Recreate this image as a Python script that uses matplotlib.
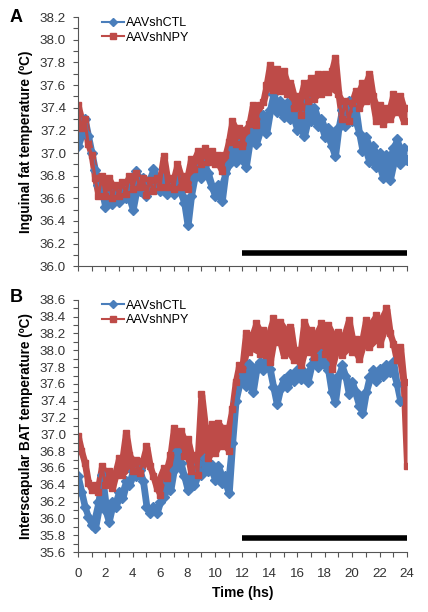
import matplotlib
matplotlib.use("Agg")
import matplotlib.pyplot as plt
import numpy as np
import pandas as pd
from matplotlib.ticker import MultipleLocator

plt.rcParams["font.family"] = ["Liberation Sans", "DejaVu Sans"]

# recording grid: one reading every 15 min over 24 h
hours = np.linspace(0, 24, 97)

# Panel A - inguinal fat temperature (degC), four readings per hour
ing_ctl = [
    37.06, 37.18, 37.30, 37.15,  37.00, 36.85, 36.72, 36.66,
    36.52, 36.62, 36.55, 36.66,  36.57, 36.68, 36.60, 36.70,
    36.50, 36.84, 36.66, 36.78,  36.62, 36.74, 36.86, 36.72,
    36.66, 36.78, 36.64, 36.76,  36.64, 36.78, 36.66, 36.56,
    36.36, 36.62, 36.78, 36.86,  36.78, 36.90, 36.82, 36.70,
    36.62, 36.72, 36.58, 36.82,  36.90, 37.04, 36.92, 37.08,
    36.96, 36.88, 37.12, 37.22,  37.08, 37.20, 37.34, 37.18,
    37.38, 37.52, 37.36, 37.46,  37.32, 37.44, 37.30, 37.36,
    37.20, 37.34, 37.15, 37.46,  37.28, 37.40, 37.24, 37.30,
    37.14, 37.22, 37.06, 36.97,  37.22, 37.38, 37.24, 37.46,
    37.28, 37.40, 37.18, 37.02,  37.14, 36.92, 37.06, 36.88,
    37.00, 36.78, 36.98, 36.76,  37.04, 37.12, 36.90, 37.04,
    36.94,
]
ing_npy = [
    37.42, 37.22, 37.30, 37.08,  36.98, 36.78, 36.62, 36.80,
    36.62, 36.78, 36.60, 36.72,  36.62, 36.74, 36.64, 36.80,
    36.68, 36.82, 36.70, 36.78,  36.63, 36.76, 36.66, 36.78,
    36.70, 36.97, 36.70, 36.78,  36.68, 36.90, 36.70, 36.80,
    36.68, 36.95, 36.86, 37.02,  36.90, 37.04, 36.92, 37.02,
    36.90, 36.98, 36.84, 36.98,  37.10, 37.28, 37.08, 37.22,
    37.06, 37.20, 37.26, 37.42,  37.25, 37.42, 37.45, 37.60,
    37.78, 37.56, 37.74, 37.55,  37.72, 37.52, 37.62, 37.40,
    37.50, 37.34, 37.62, 37.46,  37.66, 37.48, 37.70, 37.52,
    37.70, 37.54, 37.72, 37.84,  37.52, 37.30, 37.46, 37.28,
    37.44, 37.55, 37.40, 37.62,  37.46, 37.70, 37.50, 37.28,
    37.42, 37.26, 37.40, 37.30,  37.52, 37.36, 37.50, 37.28,
    37.40,
]

# Panel B - interscapular BAT temperature (degC)
bat_ctl = [
    36.50, 36.32, 36.14, 36.02,  35.92, 35.88, 36.20, 36.52,
    36.10, 35.96, 36.20, 36.14,  36.32, 36.24, 36.44, 36.40,
    36.56, 36.50, 36.58, 36.44,  36.14, 36.06, 36.14, 36.06,
    36.20, 36.26, 36.44, 36.34,  36.58, 36.80, 36.66, 36.50,
    36.34, 36.50, 36.40, 36.66,  36.52, 36.72, 36.56, 36.64,
    36.46, 36.62, 36.42, 36.50,  36.30, 36.90, 37.40, 37.60,
    37.74, 37.58, 37.84, 37.50,  37.76, 37.86, 37.76, 37.88,
    37.78, 37.56, 37.36, 37.54,  37.66, 37.56, 37.72, 37.64,
    37.76, 37.66, 37.74, 37.62,  37.82, 37.90, 37.80, 37.96,
    37.84, 37.76, 37.50, 37.38,  37.70, 37.82, 37.70, 37.48,
    37.62, 37.50, 37.34, 37.26,  37.50, 37.68, 37.76, 37.64,
    37.78, 37.70, 37.82, 37.74,  37.86, 37.60, 37.40, np.nan,
    np.nan,
]
bat_npy = [
    36.98, 36.80, 36.66, 36.42,  36.34, 36.40, 36.32, 36.62,
    36.40, 36.56, 36.36, 36.52,  36.72, 36.52, 37.02, 36.76,
    36.56, 36.70, 36.54, 36.68,  36.86, 36.62, 36.50, 36.36,
    36.28, 36.60, 36.48, 36.76,  37.08, 36.88, 37.04, 36.74,
    36.94, 36.56, 36.76, 36.52,  37.48, 36.84, 36.72, 37.12,
    36.78, 37.14, 36.86, 37.08,  36.80, 37.30, 37.62, 37.82,
    37.78, 38.20, 37.98, 38.18,  38.32, 37.96, 38.24, 37.94,
    37.86, 38.38, 38.10, 38.34,  37.94, 38.16, 38.28, 37.88,
    38.00, 37.82, 38.34, 37.98,  38.24, 37.92, 38.10, 38.32,
    37.96, 38.30, 37.78, 38.06,  38.22, 37.94, 38.10, 38.36,
    37.98, 38.14, 37.90, 38.06,  38.36, 38.04, 38.30, 38.42,
    38.08, 38.30, 38.50, 38.20,  38.08, 37.88, 38.04, 37.62,
    36.62,
]

BLUE = "#4a7ebb"
RED = "#be4b48"

fig = plt.figure(figsize=(4.28, 6.12), dpi=100)
ax_a = fig.add_axes([0.182, 0.565, 0.769, 0.407])
ax_b = fig.add_axes([0.182, 0.098, 0.769, 0.412])


def draw_trace(ax, values, color, marker, ms, label):
    # the logger readings jitter quickly, so shade the band they sweep
    s = pd.Series(values, dtype=float)
    lo = s.rolling(3, center=True, min_periods=1).min()
    hi = s.rolling(3, center=True, min_periods=1).max()
    ax.fill_between(hours, lo, hi, where=s.notna().to_numpy(),
                    color=color, lw=0, interpolate=False)
    ax.plot(hours, s, color=color, lw=2.2, marker=marker, ms=ms,
            mec=color, mfc=color, label=label)


def draw_panel(ax, ctl, npy, ylim, bar_y, ylabel, show_x):
    draw_trace(ax, ctl, BLUE, "D", 4.8, "AAVshCTL")
    draw_trace(ax, npy, RED, "s", 5.0, "AAVshNPY")
    ax.plot([12, 24], [bar_y, bar_y], color="black", lw=4.0,
            solid_capstyle="butt")
    ax.set_xlim(0, 24)
    ax.set_ylim(*ylim)
    ax.xaxis.set_major_locator(MultipleLocator(2))
    ax.xaxis.set_minor_locator(MultipleLocator(1))
    ax.yaxis.set_major_locator(MultipleLocator(0.2))
    ax.yaxis.set_minor_locator(MultipleLocator(0.1))
    ax.yaxis.set_major_formatter(plt.FormatStrFormatter("%.1f"))
    ax.tick_params(which="both", direction="out", length=3.5, width=0.8,
                   color="#555555", labelsize=9.6, labelcolor="#333333")
    ax.tick_params(axis="y", pad=5)
    ax.tick_params(axis="x", pad=8)
    if not show_x:
        ax.tick_params(axis="x", labelbottom=False)
    for side in ("top", "right"):
        ax.spines[side].set_visible(False)
    for side in ("left", "bottom"):
        ax.spines[side].set_color("#555555")
        ax.spines[side].set_linewidth(0.8)
    ax.set_ylabel(ylabel, fontsize=9.8, fontweight="bold", labelpad=5)
    leg = ax.legend(loc="upper left", bbox_to_anchor=(0.05, 1.03),
                    frameon=False, fontsize=9, handlelength=1.8,
                    handletextpad=0.1, labelspacing=0.2, borderaxespad=0.2)
    for line in leg.get_lines():
        line.set_linewidth(1.5)
        line.set_markersize(4)


draw_panel(ax_a, ing_ctl, ing_npy, (36.0, 38.2), 36.12,
           "Inguinal fat temperature (\u00baC)", False)
draw_panel(ax_b, bat_ctl, bat_npy, (35.6, 38.6), 35.77,
           "Interscapular BAT temperature (\u00baC)", True)
ax_b.set_xlabel("Time (hs)", fontsize=10, fontweight="bold", labelpad=4)

fig.text(0.022, 0.985, "A", fontsize=13, fontweight="bold", va="top")
fig.text(0.022, 0.528, "B", fontsize=13, fontweight="bold", va="top")

fig.savefig("out.png", dpi=100)
